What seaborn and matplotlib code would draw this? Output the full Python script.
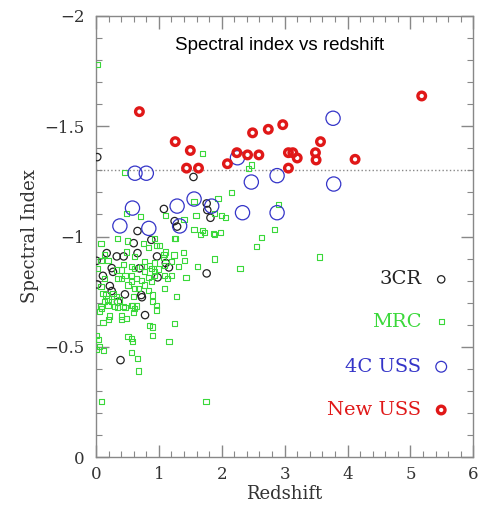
import pandas as pd
import matplotlib
matplotlib.use("Agg")
import matplotlib.pyplot as plt
import seaborn as sns
from matplotlib.ticker import MultipleLocator


# =========================================
# DATA
# =========================================

cr3_z = [0.02, 1.55, 1.08, 1.76, 1.77, 1.82, 1.25, 1.29, 0.66, 0.88, 0.60, 0.17,
         0.33, 0.44, 0.66, 0.97, 0.01, 1.11, 1.16, 0.69, 0.25, 0.27, 1.76, 0.11,
         0.98, 0.02, 0.22, 0.25, 0.46, 0.72, 0.73, 0.35, 0.78, 0.39]
cr3_alpha = [-1.36, -1.27, -1.125, -1.15, -1.12, -1.085, -1.07, -1.045, -1.025, -0.985,
             -0.97, -0.925, -0.91, -0.91, -0.925, -0.91, -0.89, -0.88, -0.86, -0.856,
             -0.857, -0.84, -0.833, -0.822, -0.815, -0.783, -0.776, -0.753, -0.738,
             -0.735, -0.725, -0.704, -0.644, -0.44]

mrc_z = [0.02, 0.46, 1.69, 2.47, 2.42, 2.15, 1.94, 1.56, 2.90, 1.89, 2.00, 2.06,
         1.59, 1.10, 1.40, 0.49, 0.71, 1.56, 1.70, 1.66, 1.89, 1.98, 2.84, 2.63,
         1.25, 2.55, 1.39, 1.24, 1.41, 1.89, 1.31, 1.61, 2.29, 1.43, 1.07, 3.55,
         1.72, 1.87,
         0.08, 0.34, 0.50, 0.75, 0.93, 0.96, 0.83, 1.01, 1.10, 1.26, 0.14, 0.08,
         0.19, 0.44, 0.48, 0.61, 0.77, 0.85, 0.93, 1.09, 1.20, 1.08, 0.03, 0.32,
         0.40, 0.46, 0.35, 0.40, 0.56, 0.61, 0.72, 0.77, 0.88, 0.93, 0.99, 1.09,
         1.14, 1.20, 0.56, 0.64, 0.72, 0.83, 0.93, 0.51, 0.56, 0.67, 0.77, 0.88,
         0.13, 0.08, 0.11, 0.16, 0.19, 0.27, 0.32, 0.38, 0.43, 0.30, 0.56, 0.59,
         0.61, 0.83, 0.90, 0.90, 0.96, 1.09, 0.08, 0.19, 0.06, 1.28, 0.61, 0.96,
         0.13, 0.25, 0.09, 0.34, 0.46, 0.58, 0.65, 0.59, 0.11, 0.20, 0.22, 0.41,
         0.41, 0.49, 0.85, 0.90, 1.25, 0.90, 0.00, 0.04, 0.51, 0.57, 0.58, 1.16,
         0.06, 0.01, 0.12, 0.57, 0.66, 0.68, 0.09, 1.75]
mrc_alpha = [-1.78, -1.29, -1.377, -1.324, -1.31, -1.199, -1.173, -1.158, -1.147, -1.105,
             -1.097, -1.087, -1.097, -1.097, -1.078, -1.105, -1.09, -1.033, -1.026, -1.01,
             -1.011, -1.019, -1.033, -0.996, -0.992, -0.954, -0.927, -0.916, -0.893, -0.898,
             -0.863, -0.866, -0.856, -0.813, -0.906, -0.907, -1.02, -1.014,
             -0.97, -0.99, -0.98, -0.97, -0.99, -0.96, -0.95, -0.96, -0.93, -0.99,
             -0.92, -0.89, -0.89, -0.874, -0.93, -0.91, -0.886, -0.87, -0.88, -0.87,
             -0.886, -0.92, -0.856, -0.848, -0.848, -0.825, -0.81, -0.81, -0.863, -0.856,
             -0.863, -0.84, -0.856, -0.84, -0.853, -0.825, -0.81, -0.825, -0.825, -0.81,
             -0.80, -0.813, -0.825, -0.78, -0.795, -0.765, -0.78, -0.795, -0.81, -0.772,
             -0.742, -0.735, -0.717, -0.742, -0.727, -0.712, -0.682, -0.682, -0.689, -0.727,
             -0.765, -0.757, -0.735, -0.705, -0.689, -0.765, -0.682, -0.689, -0.659, -0.727,
             -0.674, -0.667, -0.705, -0.705, -0.674, -0.677, -0.677, -0.689, -0.685, -0.654,
             -0.609, -0.625, -0.64, -0.64, -0.625, -0.629, -0.598, -0.59, -0.606, -0.55,
             -0.55, -0.534, -0.546, -0.538, -0.523, -0.523, -0.503, -0.488, -0.482, -0.475,
             -0.448, -0.391, -0.251, -0.251]

uss4c_z = [0.62, 0.80, 2.25, 2.47, 2.88, 3.77, 3.78, 0.58, 1.29, 1.56, 1.84, 2.33,
           2.88, 0.38, 0.84, 1.33]
uss4c_alpha = [-1.287, -1.287, -1.357, -1.247, -1.276, -1.536, -1.238, -1.129, -1.138,
               -1.17, -1.138, -1.108, -1.108, -1.048, -1.037, -1.048]

new_z = [0.69, 1.26, 1.50, 1.44, 1.63, 2.09, 2.24, 2.41, 2.59, 2.49, 2.74, 2.97,
         3.06, 3.13, 3.20, 3.06, 3.49, 3.50, 3.57, 4.12, 5.18]
new_alpha = [-1.566, -1.43, -1.39, -1.31, -1.31, -1.33, -1.38, -1.37, -1.37, -1.47,
             -1.486, -1.507, -1.38, -1.38, -1.356, -1.31, -1.38, -1.347, -1.43, -1.35,
             -1.637]

samples = ["3CR", "MRC", "4C USS", "New USS"]
colors = ["#222222", "#3ad83a", "#3434c8", "#e01818"]

y_ticks = [0, -0.5, -1, -1.5, -2]
y_tick_labels = ["0", "\u22120.5", "\u22121", "\u22121.5", "\u22122"]
x_ticks = [0, 1, 2, 3, 4, 5, 6]

usss_cut = -1.3

df = pd.concat([
    pd.DataFrame({"z": cr3_z, "alpha": cr3_alpha, "sample": "3CR"}),
    pd.DataFrame({"z": mrc_z, "alpha": mrc_alpha, "sample": "MRC"}),
    pd.DataFrame({"z": uss4c_z, "alpha": uss4c_alpha, "sample": "4C USS"}),
    pd.DataFrame({"z": new_z, "alpha": new_alpha, "sample": "New USS"}),
], ignore_index=True)


# =========================================
# STYLE
# =========================================

sns.set_style("ticks")
plt.rcParams["font.family"] = ["DejaVu Serif"]
plt.rcParams["xtick.direction"] = "in"
plt.rcParams["ytick.direction"] = "in"

marker_style = {
    "3CR": dict(marker="o", s=28, linewidths=0.9),
    "MRC": dict(marker="s", s=14, linewidths=0.8),
    "4C USS": dict(marker="o", s=105, linewidths=0.9),
    "New USS": dict(marker="o", s=30, linewidths=2.4),
}


# =========================================
# PLOT
# =========================================

fig = plt.figure(figsize=(4.8, 5.12), dpi=100)
ax = fig.add_axes([0.2, 0.107, 0.786, 0.862])

ax.axhline(usss_cut, color="#888888", linestyle=":", linewidth=1.0, zorder=1)

for name, col in zip(samples, colors):
    sub = df[df["sample"] == name]
    sns.scatterplot(
        data=sub, x="z", y="alpha", ax=ax,
        facecolor="none", edgecolor=col, legend=False, zorder=3,
        **marker_style[name]
    )

ax.set_xlim(0, 6)
ax.set_ylim(0, -2)
ax.set_xticks(x_ticks)
ax.set_yticks(y_ticks)
ax.set_yticklabels(y_tick_labels)
ax.xaxis.set_minor_locator(MultipleLocator(0.2))
ax.yaxis.set_minor_locator(MultipleLocator(0.1))
ax.tick_params(which="both", top=True, right=True, color="#888888",
               labelsize=12, labelcolor="#333333")
ax.tick_params(which="major", length=9, width=1)
ax.tick_params(which="minor", length=4.5, width=0.8)
ax.tick_params(axis="x", pad=6)
ax.tick_params(axis="y", pad=8)
for sp in ax.spines.values():
    sp.set_color("#888888")
    sp.set_linewidth(1.0)

ax.set_xlabel("Redshift", fontsize=13, color="#333333", labelpad=2)
ax.set_ylabel("Spectral Index", fontsize=13, color="#333333", labelpad=4)

ax.text(0.487, 0.934, "Spectral index vs redshift", transform=ax.transAxes,
        ha="center", va="center", fontsize=13.5, family="Liberation Sans",
        color="black")

# legend drawn as text + marker like the original
leg_y = [0.403, 0.307, 0.205, 0.107]
for name, col, yy in zip(samples, colors, leg_y):
    ax.text(0.862, yy, name, transform=ax.transAxes, ha="right", va="center",
            fontsize=14, color=col)
    ax.scatter([0.915], [yy], transform=ax.transAxes, facecolor="none",
               edgecolor=col, clip_on=False, zorder=4,
               **{**marker_style[name], "s": marker_style[name]["s"] if name != "4C USS" else 60})

plt.savefig("out.png", dpi=100)
